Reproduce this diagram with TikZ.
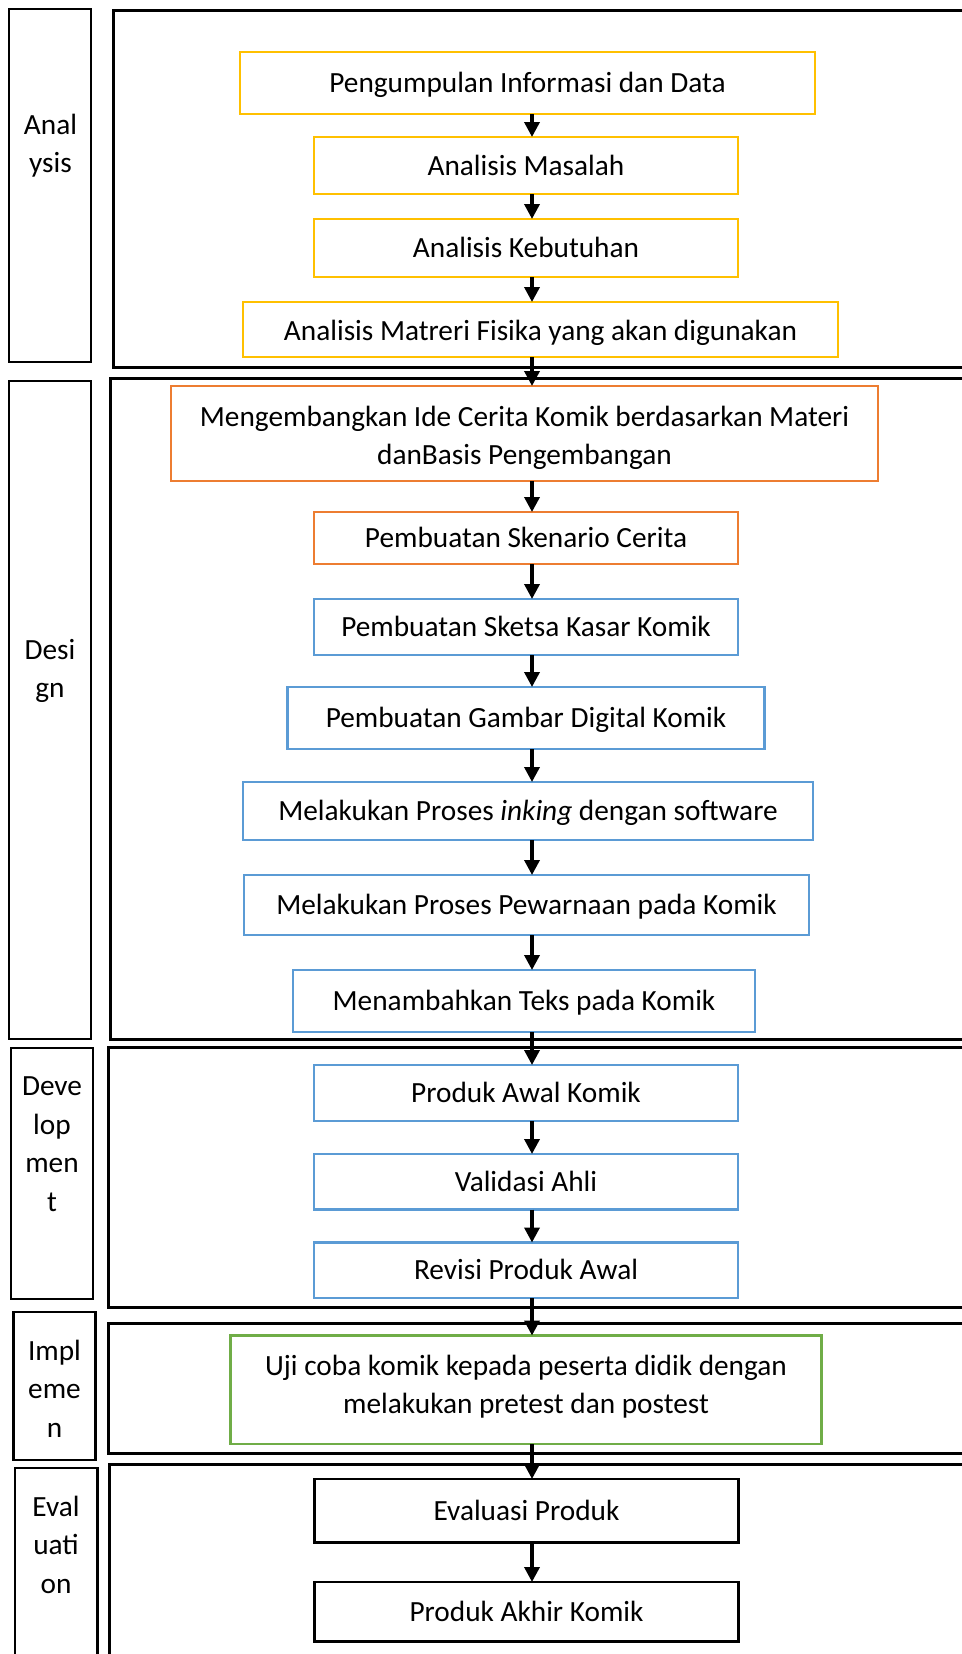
\documentclass[tikz,border=0pt]{standalone}
\usepackage{fontspec}
\setmainfont{Carlito}
\usetikzlibrary{positioning, arrows.meta}

\definecolor{anaYellow}{HTML}{FFC000}
\definecolor{desOrange}{HTML}{ED7D31}
\definecolor{desBlue}{HTML}{5B9BD5}
\definecolor{impGreen}{HTML}{70AD47}

\begin{document}
\begin{tikzpicture}[-{Triangle[width=15pt,length=15pt]}, x=1pt, y=-1pt, node distance=33pt]
\tikzstyle{every node}=[font=\fontsize{29.3pt}{38.5pt}\selectfont, outer sep=0pt]
\tikzstyle{frame}=[draw=black, line width=3pt, rectangle, anchor=north west, minimum width=870pt]
\tikzstyle{tag}=[draw=black, line width=2.8pt, rectangle, anchor=north west, minimum width=82pt]
\tikzstyle{tagtext}=[align=center, inner sep=0pt, anchor=base]
\tikzstyle{stepbox}=[draw, line width=2.8pt, rectangle, minimum width=424pt, align=center, inner sep=0pt, text height=22pt, text depth=3pt]

\useasboundingbox (0,0) rectangle (961,1654);

% phase frames
\node[frame, minimum height=356pt]   (FA) at (113,11) {};
\node[frame, minimum height=661pt]   (FD) at (110,378) {};
\node[frame, minimum height=259.5pt] (FV) at (108,1047.5) {};
\node[frame, minimum height=130pt]   (FI) at (108,1323) {};
\node[frame, minimum height=230pt]   (FE) at (109,1464) {};

% phase tags (text placed at baseline of last line)
\node[tag, minimum height=353pt] (LA) at (9,9) {};
\node[tag, minimum height=658pt] (LD) at (9,381) {};
\node[tag, minimum height=251pt] (LV) at (11,1048) {};
\node[tag, minimum height=148pt] (LI) at (13.5,1312) {};
\node[tag, minimum height=210pt, minimum width=82.5pt] (LE) at (15,1468) {};

\node[tagtext] (TA) at (50.5,172.8)  {Anal\\ysis};
\node[tagtext] (TD) at (50,697.5)    {Desi\\gn};
\node[tagtext] (TV) at (52,1211.2)   {Deve\\lop\\men\\t};
\node[tagtext] (TI) at (54.5,1437.3) {Impl\\eme\\n};
\node[tagtext] (TE) at (56,1593.3)   {Eval\\uati\\on};

% steps
\node[stepbox, draw=anaYellow, minimum width=575pt, minimum height=62pt] (A1) at (527.5,83) {Pengumpulan Informasi dan Data};
\node[stepbox, draw=anaYellow, minimum height=57pt, below=23pt of A1, xshift=-1.5pt] (A2) {Analisis Masalah};
\node[stepbox, draw=anaYellow, minimum height=58pt, below=25pt of A2] (A3) {Analisis Kebutuhan};
\node[stepbox, draw=anaYellow, minimum width=595pt, minimum height=55pt, below=25pt of A3, xshift=14.5pt, text height=24pt] (A4) {Analisis Matreri Fisika yang akan digunakan};
\node[stepbox, draw=desOrange, minimum width=707pt, minimum height=95pt, below=29pt of A4, xshift=-16pt, text height=64pt, text depth=2pt] (D1) {Mengembangkan Ide Cerita Komik berdasarkan Materi\\danBasis Pengembangan};
\node[stepbox, draw=desOrange, minimum height=52pt, below=31pt of D1, xshift=1.5pt] (D2) {Pembuatan Skenario Cerita};
\node[stepbox, draw=desBlue, minimum height=56pt, below=35pt of D2] (D3) {Pembuatan Sketsa Kasar Komik};
\node[stepbox, draw=desBlue, minimum width=477pt, minimum height=62pt, below=32pt of D3] (D4) {Pembuatan Gambar Digital Komik};
\node[stepbox, draw=desBlue, minimum width=570pt, minimum height=58pt, below=33pt of D4, xshift=2pt] (D5) {Melakukan Proses \textit{inking} dengan software};
\node[stepbox, draw=desBlue, minimum width=565pt, minimum height=60pt, below=35pt of D5, xshift=-1.5pt] (D6) {Melakukan Proses Pewarnaan pada Komik};
\node[stepbox, draw=desBlue, minimum width=462pt, minimum height=62pt, below=35pt of D6, xshift=-2.5pt] (D7) {Menambahkan Teks pada Komik};
\node[stepbox, draw=desBlue, minimum height=56pt, below=33pt of D7, xshift=2pt] (V1) {Produk Awal Komik};
\node[stepbox, draw=desBlue, minimum height=55.5pt, below=33pt of V1] (V2) {Validasi Ahli};
\node[stepbox, draw=desBlue, minimum height=55.5pt, below=33pt of V2] (V3) {Revisi Produk Awal};
\node[stepbox, draw=impGreen, minimum width=591pt, minimum height=108.5pt, below=37.5pt of V3, text height=50pt, text depth=2.2pt] (I1) {Uji coba komik kepada peserta didik dengan\\melakukan pretest dan postest};
\node[stepbox, draw=black, minimum height=63.5pt, below=35pt of I1, xshift=0.5pt] (E1) {Evaluasi Produk};
\node[stepbox, draw=black, minimum height=59.5pt, below=39.5pt of E1] (E2) {Produk Akhir Komik};

\coordinate (X) at (532,0);

\path[line width=3.5pt]
(A1.south -| X) edge (A2.north -| X)
(A2.south -| X) edge (A3.north -| X)
(A3.south -| X) edge (A4.north -| X)
(A4.south -| X) edge (D1.north -| X)
(D1.south -| X) edge (D2.north -| X)
(D2.south -| X) edge (D3.north -| X)
(D3.south -| X) edge (D4.north -| X)
(D4.south -| X) edge (D5.north -| X)
(D5.south -| X) edge (D6.north -| X)
(D6.south -| X) edge (D7.north -| X)
(D7.south -| X) edge (V1.north -| X)
(V1.south -| X) edge (V2.north -| X)
(V2.south -| X) edge (V3.north -| X)
(V3.south -| X) edge (I1.north -| X)
(I1.south -| X) edge (E1.north -| X)
(E1.south -| X) edge (E2.north -| X);

\end{tikzpicture}
\end{document}
